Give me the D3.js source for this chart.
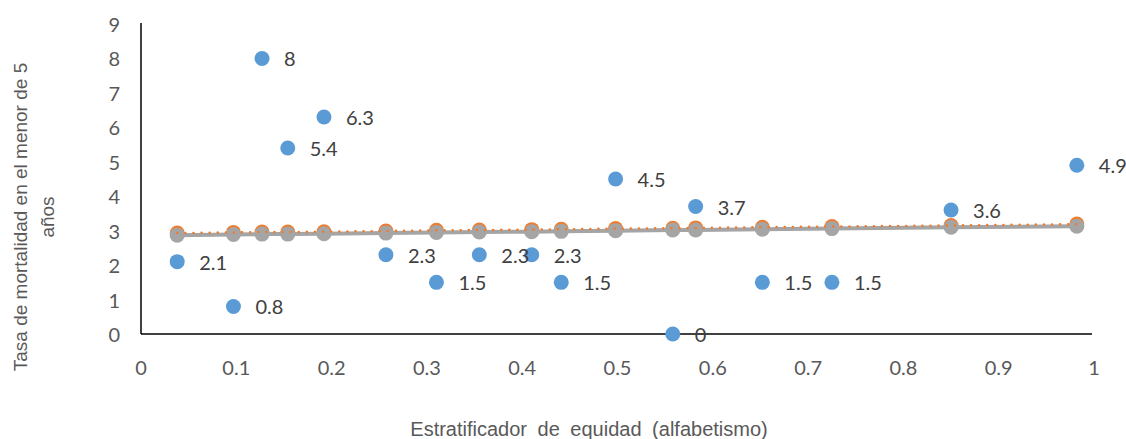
<!DOCTYPE html>
<html><head><meta charset="utf-8">
<script src="https://cdn.jsdelivr.net/npm/d3@7"></script>
<style>body{margin:0;background:#fff;} svg{display:block;}</style>
</head><body>
<svg id="c" width="1126" height="439"></svg>
<script>
const xVals = [0.038,0.097,0.127,0.154,0.192,0.257,0.310,0.355,0.410,0.441,0.498,0.558,0.582,0.652,0.725,0.850,0.982];
const observed = [2.1,0.8,8,5.4,6.3,2.3,1.5,2.3,2.3,1.5,4.5,0,3.7,1.5,1.5,3.6,4.9];
const orangeVals = [2.93,2.95,2.96,2.96,2.97,2.99,3.01,3.02,3.03,3.04,3.06,3.07,3.08,3.10,3.12,3.15,3.19];
const grayVals = [2.87,2.89,2.90,2.90,2.91,2.93,2.95,2.96,2.97,2.98,3.00,3.02,3.02,3.04,3.06,3.10,3.13];
const xTicks = [0,0.1,0.2,0.3,0.4,0.5,0.6,0.7,0.8,0.9,1];
const yTicks = [0,1,2,3,4,5,6,7,8,9];
const xTitle = "Estratificador de equidad (alfabetismo)";
const yTitle = ["Tasa de mortalidad en el menor de 5", "años"];

const svg = d3.select("#c");
const x = d3.scaleLinear().domain([0,1]).range([141,1094]);
const y = d3.scaleLinear().domain([0,9]).range([334,24]);
const tickFont = "Lato, 'Open Sans', sans-serif";
const titleFont = "'Liberation Sans', Arial, sans-serif";

// axes lines
svg.append("line").attr("x1",x(0)).attr("x2",x(0)).attr("y1",y(9)-1).attr("y2",y(0)).attr("stroke","#000").attr("stroke-width",1.5);
svg.append("line").attr("x1",x(0)).attr("x2",x(1)-2).attr("y1",y(0)).attr("y2",y(0)).attr("stroke","#000").attr("stroke-width",1.5);

// tick labels
svg.append("g").selectAll("text").data(yTicks).join("text")
  .attr("x",120).attr("y",d=>y(d)).attr("text-anchor","end").attr("dominant-baseline","central")
  .attr("font-family",tickFont).attr("font-size",20).attr("fill","#595959").text(d=>d);
svg.append("g").selectAll("text").data(xTicks).join("text")
  .attr("x",d=>x(d)).attr("y",367).attr("text-anchor","middle").attr("dominant-baseline","central")
  .attr("font-family",tickFont).attr("font-size",20).attr("fill","#595959").text(d=>d);

// titles
svg.append("text").attr("x",589).attr("y",429).attr("text-anchor","middle").attr("dominant-baseline","central")
  .attr("font-family",titleFont).attr("font-size",20).attr("word-spacing",5).attr("fill","#595959").text(xTitle);
const yt = svg.append("text").attr("transform","translate(20,217) rotate(-90)").attr("text-anchor","middle")
  .attr("font-family",titleFont).attr("font-size",19).attr("fill","#595959");
yt.append("tspan").attr("x",0).attr("y",0).attr("dominant-baseline","central").text(yTitle[0]);
yt.append("tspan").attr("x",0).attr("y",27).attr("dominant-baseline","central").text(yTitle[1]);

// blue points and labels
const pts = xVals.map((v,i)=>({x:v,y:observed[i]}));
svg.append("g").selectAll("circle").data(pts).join("circle")
  .attr("cx",d=>x(d.x)).attr("cy",d=>y(d.y)).attr("r",7.5).attr("fill","#5B9BD5");
svg.append("g").selectAll("text").data(pts).join("text")
  .attr("x",d=>x(d.x)+22).attr("y",d=>y(d.y)).attr("dominant-baseline","central")
  .attr("font-family",tickFont).attr("font-size",20).attr("fill","#404040").text(d=>d.y);

// orange markers
const oPts = xVals.map((v,i)=>({x:v,y:orangeVals[i]}));
const gPts = xVals.map((v,i)=>({x:v,y:grayVals[i]}));
svg.append("g").selectAll("circle").data(oPts).join("circle")
  .attr("cx",d=>x(d.x)).attr("cy",d=>y(d.y)).attr("r",7.5).attr("fill","#ED7D31");
// gray line and markers
const line = d3.line().x(d=>x(d.x)).y(d=>y(d.y));
svg.append("path").datum(gPts).attr("d",line).attr("fill","none").attr("stroke","#A5A5A5").attr("stroke-width",4);
svg.append("g").selectAll("circle").data(gPts).join("circle")
  .attr("cx",d=>x(d.x)).attr("cy",d=>y(d.y)).attr("r",7.5).attr("fill","#A5A5A5");
// orange dotted line on top
svg.append("path").datum(oPts).attr("d",line).attr("fill","none").attr("stroke","#ED7D31")
  .attr("stroke-width",2.5).attr("stroke-linecap","round").attr("stroke-dasharray","0.1 8");
</script>
</body></html>
